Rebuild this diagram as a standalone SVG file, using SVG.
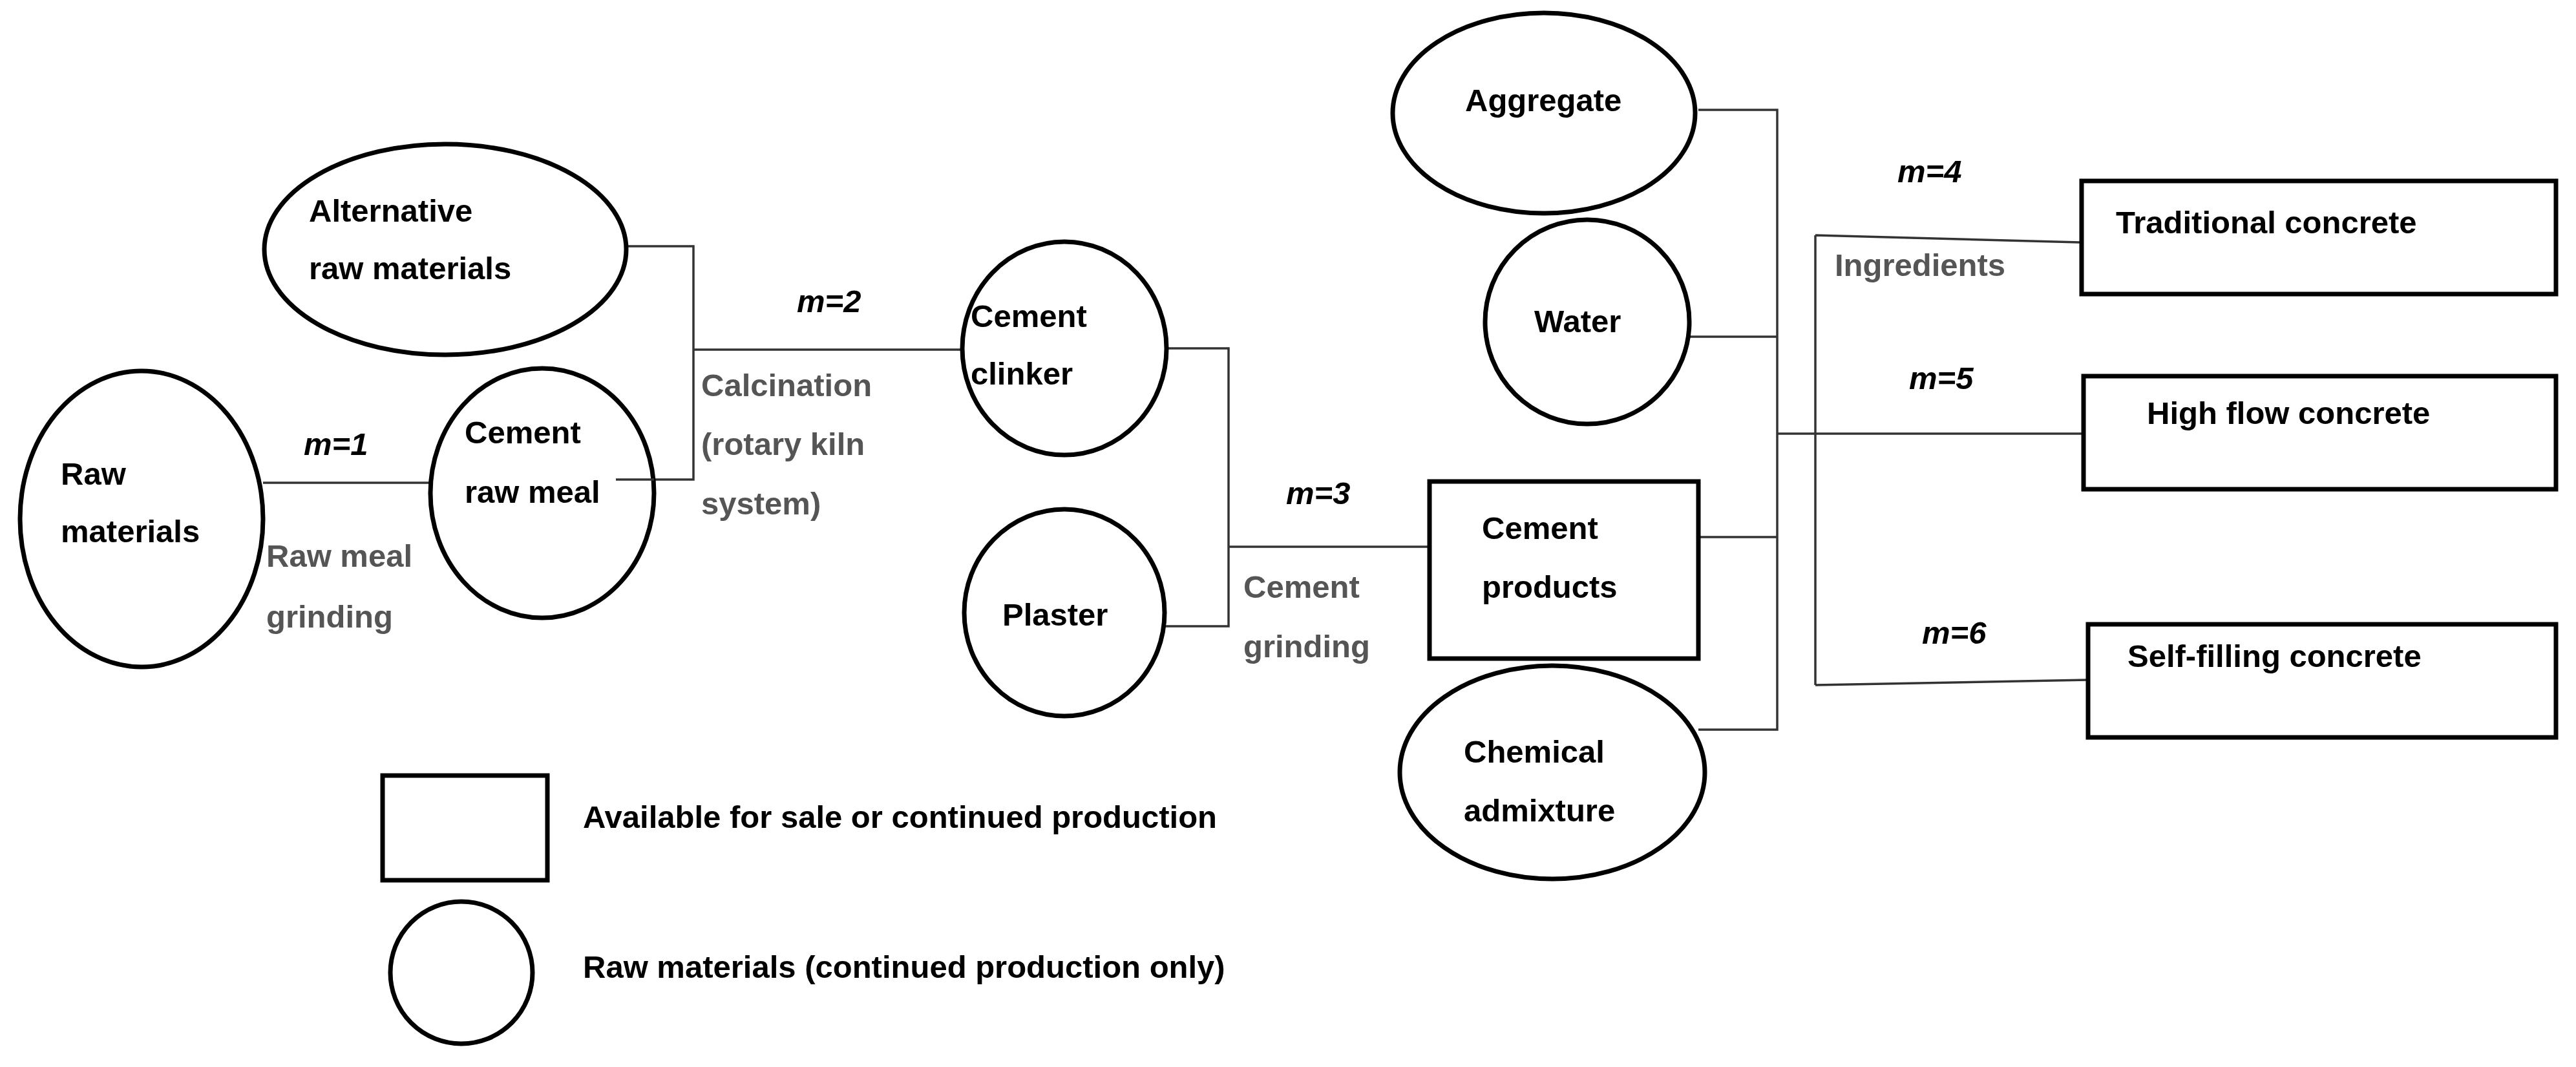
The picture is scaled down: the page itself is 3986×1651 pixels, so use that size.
<svg xmlns="http://www.w3.org/2000/svg" width="3986" height="1651" viewBox="0 0 3986 1651">
<style>
.s{fill:#fff;stroke:#000;stroke-width:7}
.c{fill:none;stroke:#333;stroke-width:3.5}
text{font-family:"Liberation Sans",Arial,sans-serif;font-weight:bold;font-size:49px;fill:#000}
.g{fill:#555}
.m{font-style:italic}
</style>
<rect width="3986" height="1651" fill="#fff"/>
<g id="connectors">
<path class="c" d="M407 747H666M953 742H1073V381H969M1073 541H1490M1805 539H1901V969H1802M1901 846H2212M2628 170H2750V1129H2628M2614 521H2750M2628 831H2750M2750 671H3224M2809 364V1060M2809 364L3218 375M2809 1060L3231 1052"/>
</g>
<g id="raw"><ellipse class="s" cx="219" cy="803" rx="188" ry="229"/><text x="94" y="750">Raw</text><text x="94" y="839">materials</text></g>
<g id="rawmeal"><ellipse class="s" cx="839" cy="763" rx="173" ry="193"/><text x="719" y="686">Cement</text><text x="719" y="778">raw meal</text></g>
<path class="c" d="M953 742H1012"/>
<g id="alt"><ellipse class="s" cx="689" cy="386" rx="280" ry="163"/><text x="478" y="343">Alternative</text><text x="478" y="432">raw materials</text></g>
<g id="clinker"><ellipse class="s" cx="1647" cy="539" rx="158" ry="165"/><text x="1502" y="506">Cement</text><text x="1502" y="595">clinker</text></g>
<g id="plaster"><ellipse class="s" cx="1647" cy="948" rx="155" ry="160"/><text x="1551" y="968">Plaster</text></g>
<g id="products"><rect class="s" x="2212" y="745" width="416" height="274"/><text x="2293" y="834">Cement</text><text x="2293" y="925">products</text></g>
<g id="aggregate"><ellipse class="s" cx="2389" cy="175" rx="234" ry="155"/><text x="2267" y="172">Aggregate</text></g>
<g id="water"><ellipse class="s" cx="2456" cy="498" rx="158" ry="158"/><text x="2374" y="514">Water</text></g>
<g id="chemical"><ellipse class="s" cx="2402" cy="1195" rx="236" ry="165"/><text x="2265" y="1180">Chemical</text><text x="2265" y="1271">admixture</text></g>
<g id="traditional"><rect class="s" x="3221" y="280" width="734" height="175"/><text x="3274" y="361">Traditional concrete</text></g>
<g id="highflow"><rect class="s" x="3224" y="582" width="731" height="175"/><text x="3322" y="656">High flow concrete</text></g>
<g id="selffilling"><rect class="s" x="3231" y="966" width="724" height="175"/><text x="3292" y="1032">Self-filling concrete</text></g>
<g id="labels">
<text class="m" x="470" y="704">m=1</text>
<text class="g" x="412" y="877">Raw meal</text><text class="g" x="412" y="971">grinding</text>
<text class="m" x="1233" y="483">m=2</text>
<text class="g" x="1085" y="613">Calcination</text><text class="g" x="1085" y="704">(rotary kiln</text><text class="g" x="1085" y="796">system)</text>
<text class="m" x="1990" y="780">m=3</text>
<text class="g" x="1924" y="925">Cement</text><text class="g" x="1924" y="1017">grinding</text>
<text class="m" x="2936" y="282">m=4</text>
<text class="g" x="2839" y="427">Ingredients</text>
<text class="m" x="2954" y="602">m=5</text>
<text class="m" x="2974" y="996">m=6</text>
</g>
<g id="legend">
<rect class="s" x="592" y="1200" width="255" height="162"/><text x="902" y="1281">Available for sale or continued production</text>
<ellipse class="s" cx="714" cy="1505" rx="110" ry="110"/><text x="902" y="1513">Raw materials (continued production only)</text>
</g>
</svg>
